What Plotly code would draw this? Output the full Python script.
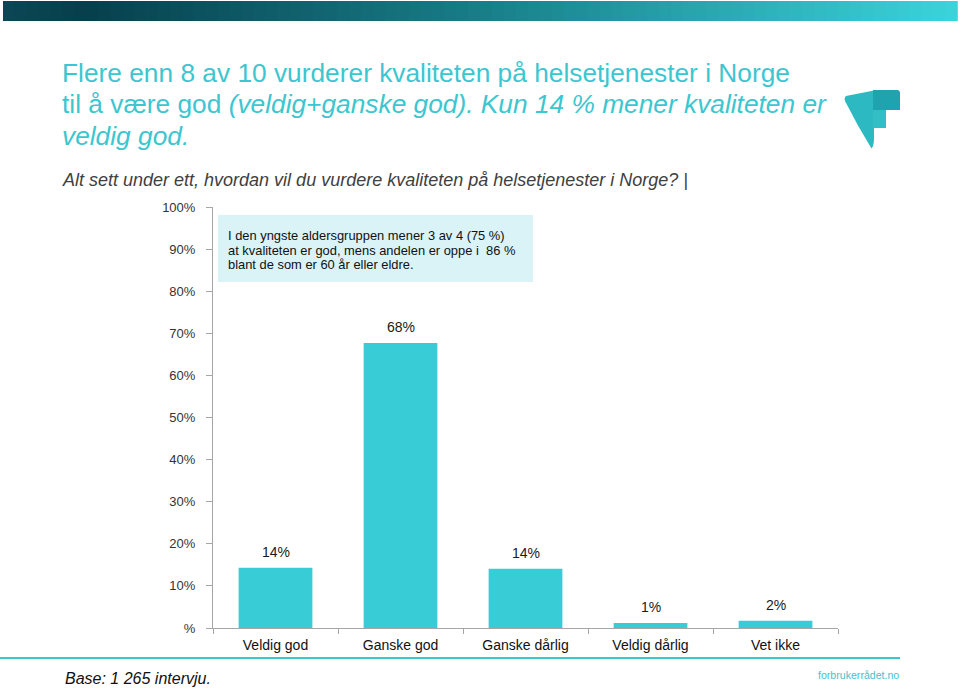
import plotly.graph_objects as go

categories = ["Veldig god", "Ganske god", "Ganske dårlig", "Veldig dårlig", "Vet ikke"]
values = [14.3, 67.7, 14.1, 1.2, 1.7]
value_labels = ["14%", "68%", "14%", "1%", "2%"]
y_tickvals = [0, 10, 20, 30, 40, 50, 60, 70, 80, 90, 100]
y_ticktext = ["%", "10%", "20%", "30%", "40%", "50%", "60%", "70%", "80%", "90%", "100%"]
title_lines = [
    "Flere enn 8 av 10 vurderer kvaliteten på helsetjenester i Norge",
    "til å være god <i>(veldig+ganske god). Kun 14 % mener kvaliteten er</i>",
    "<i>veldig god.</i>",
]
subtitle = "<i>Alt sett under ett, hvordan vil du vurdere kvaliteten på helsetjenester i Norge? |</i>"
box_lines = [
    "I den yngste aldersgruppen mener 3 av 4 (75 %)",
    "at kvaliteten er god, mens andelen er oppe i  86 %",
    "blant de som er 60 år eller eldre.",
]

W, H = 960, 688
L, R, T, B = 213, 838, 207, 628
FONT = "Liberation Sans, Arial, sans-serif"
TEAL = "#3CC6D0"
BAR = "#38CDD6"


def px(x):
    return (x - L) / (R - L)


def py(y):
    return (B - y) / (B - T)


fig = go.Figure()
fig.add_trace(go.Bar(
    x=categories, y=values, marker=dict(color=BAR, line=dict(width=0)),
    width=0.59, hoverinfo="skip",
))

annotations = []
for c, v, t in zip(categories, values, value_labels):
    annotations.append(dict(x=c, y=v, xref="x", yref="y", text=t, showarrow=False,
                            yanchor="bottom", yshift=6, font=dict(size=14, color="#1a1a1a", family=FONT)))

# Title (one annotation per line to control line spacing)
for yy, line in zip([73, 104, 136], title_lines):
    annotations.append(dict(
        x=px(60), y=py(yy), xref="paper", yref="paper", xanchor="left", yanchor="middle",
        showarrow=False, text=line, font=dict(size=26.3, color=TEAL, family=FONT)))
# Subtitle
annotations.append(dict(
    x=px(60), y=py(180), xref="paper", yref="paper", xanchor="left", yanchor="middle",
    showarrow=False, text=subtitle,
    font=dict(size=18, color="#404040", family=FONT)))
# Info box text
for yy, line in zip([235, 250, 264], box_lines):
    annotations.append(dict(
        x=px(226), y=py(yy), xref="paper", yref="paper", xanchor="left", yanchor="middle",
        showarrow=False, text=line, font=dict(size=12.9, color="#111111", family=FONT)))
# Base
annotations.append(dict(
    x=px(63), y=py(678), xref="paper", yref="paper", xanchor="left", yanchor="middle",
    showarrow=False, text="<i>Base: 1 265 intervju.</i>",
    font=dict(size=16, color="#111111", family=FONT)))
# Footer brand
annotations.append(dict(
    x=px(901), y=py(675), xref="paper", yref="paper", xanchor="right", yanchor="middle",
    showarrow=False, text="forbrukerrådet.no",
    font=dict(size=10.6, color="#45C3CC", family=FONT)))

shapes = []
# Top gradient band
stops = [(0.0, (12, 70, 84)), (0.08, (7, 63, 76)), (0.5, (24, 126, 136)), (1.0, (58, 211, 218))]


def grad(t):
    for (a, ca), (b, cb) in zip(stops[:-1], stops[1:]):
        if a <= t <= b:
            f = (t - a) / (b - a)
            return "rgb(%d,%d,%d)" % tuple(round(ca[i] + (cb[i] - ca[i]) * f) for i in range(3))
    return "rgb(58,211,218)"


n = 80
x0, x1 = 3, 957
for i in range(n):
    a = x0 + (x1 - x0) * i / n
    b = x0 + (x1 - x0) * (i + 1) / n + 0.8
    shapes.append(dict(type="rect", xref="paper", yref="paper", x0=px(a), x1=px(b),
                       y0=py(21), y1=py(1), fillcolor=grad(i / (n - 1)), line=dict(width=0), layer="below"))
# Info box
shapes.append(dict(type="rect", xref="paper", yref="paper", x0=px(218), x1=px(533),
                   y0=py(282), y1=py(215), fillcolor="#DAF3F7", line=dict(width=0), layer="below"))
# Bottom line
shapes.append(dict(type="line", xref="paper", yref="paper", x0=px(0), x1=px(900),
                   y0=py(658), y1=py(658), line=dict(color="#3CC6D0", width=2)))


def path(pts):
    out = []
    for i, p in enumerate(pts):
        if p[0] == "Q":
            out.append("Q %f,%f %f,%f" % (px(p[1]), py(p[2]), px(p[3]), py(p[4])))
        else:
            out.append(("M" if i == 0 else "L") + " %f,%f" % (px(p[0]), py(p[1])))
    return " ".join(out) + " Z"


# Logo: wedge
shapes.append(dict(type="path", xref="paper", yref="paper",
                   path=path([(846, 96), (874, 90.5), (874, 138), ("Q", 874, 146, 871.5, 148.5),
                              ("Q", 857, 125, 845, 101), ("Q", 844, 97.5, 846, 96)]),
                   fillcolor="#2DB9C2", line=dict(width=0)))
# Logo: top bar of F
shapes.append(dict(type="path", xref="paper", yref="paper",
                   path=path([(873, 90), (897, 90), ("Q", 900, 90, 900, 93), (900, 110), (873, 110)]),
                   fillcolor="#1FA3AE", line=dict(width=0)))
# Logo: middle of F
shapes.append(dict(type="rect", xref="paper", yref="paper", x0=px(873), x1=px(886),
                   y0=py(128), y1=py(110), fillcolor="#33BDC5", line=dict(width=0)))

fig.update_layout(
    width=W, height=H,
    margin=dict(l=L, r=W - R, t=T, b=H - B, pad=0),
    paper_bgcolor="white", plot_bgcolor="white",
    showlegend=False,
    bargap=0.41,
    annotations=annotations,
    shapes=shapes,
    font=dict(family=FONT),
    xaxis=dict(
        showgrid=False, showline=True, linecolor="#A6A6A6", linewidth=1,
        ticks="outside", tickson="boundaries", ticklen=5, tickcolor="#A6A6A6",
        tickfont=dict(size=14, color="#111111", family=FONT),
        ticklabelstandoff=4,
        fixedrange=True,
    ),
    yaxis=dict(
        range=[0, 100], tickvals=y_tickvals, ticktext=y_ticktext,
        showgrid=False, zeroline=False, showline=True, linecolor="#A6A6A6", linewidth=1,
        ticks="outside", ticklen=6, tickcolor="#A6A6A6",
        tickfont=dict(size=13, color="#333333", family=FONT),
        ticklabelstandoff=8,
        fixedrange=True,
    ),
)

fig.write_html("out.html", config={"displayModeBar": False},
               post_script="document.body.style.margin='0px';document.body.style.overflow='hidden';")
